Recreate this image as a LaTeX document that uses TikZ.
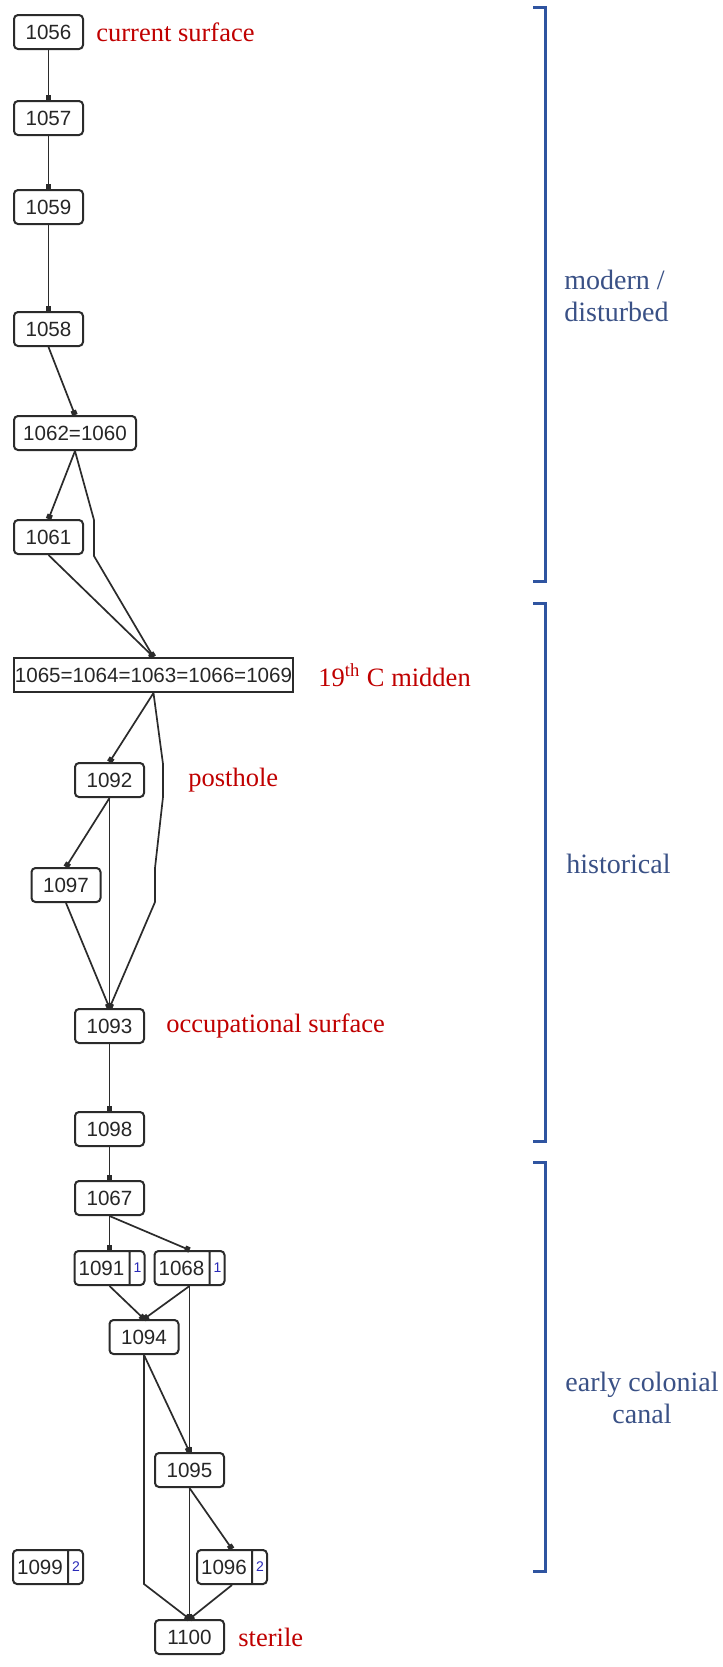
\documentclass[tikz,border=0pt]{standalone}
\usepackage{fontspec}
\setmainfont{Liberation Serif}
\newfontfamily\unitsans{Liberation Sans}
\usepackage{tikz}
\usetikzlibrary{arrows.meta,positioning,shapes.multipart}
\definecolor{unitline}{HTML}{2B2B2B}
\definecolor{unittext}{HTML}{262626}
\definecolor{notered}{HTML}{C00000}
\definecolor{phaseline}{HTML}{2F54A0}
\definecolor{phasetext}{HTML}{3A5186}
\definecolor{phaseno}{HTML}{2A2AB8}
\tikzset{
  unit/.style={draw=unitline,fill=white,rounded corners=2pt,line width=1pt,minimum height=17pt,minimum width=34.5pt,inner sep=0pt,text=unittext,font=\unitsans\fontsize{10.3}{12}\selectfont},
  merged/.style={unit,sharp corners,minimum width=139.5pt},
  phased/.style={unit,minimum width=0pt,rectangle split,rectangle split horizontal,rectangle split parts=2},
  link/.style={-{Square[length=2.4pt,width=2.8pt]},line width=0.85pt,color=unitline},
  note/.style={text=notered,inner sep=0pt,font=\fontsize{13.25}{15.5}\selectfont},
  phase/.style={text=phasetext,inner sep=0pt,font=\fontsize{14}{16}\selectfont},
  bracket/.style={draw=phaseline,line width=1.5pt},
}
\newcommand{\splitunit}[2]{\makebox[27pt]{\rule[-4.9pt]{0pt}{17pt}#1}\nodepart{two}\makebox[7pt]{\rule[-4.9pt]{0pt}{17pt}\raisebox{1.5pt}{\color{phaseno}\fontsize{7}{8}\selectfont #2}}}

\begin{document}
\begin{tikzpicture}[x=0.5pt,y=-0.5pt]
  \path[fill=white,use as bounding box] (0,0) rectangle (723,1667);
  \node[unit] (u1056) at (48.5,32) {1056};
  \node[unit] (u1057) at (48.5,118) {1057};
  \node[unit] (u1059) at (48.5,207) {1059};
  \node[unit] (u1058) at (48.5,329) {1058};
  \node[unit,minimum width=61pt] (u1062) at (75,433) {1062=1060};
  \node[unit] (u1061) at (48.5,537) {1061};
  \node[merged] (u1065) at (153.5,675) {1065=1064=1063=1066=1069};
  \node[unit] (u1092) at (109.5,780) {1092};
  \node[unit] (u1097) at (66,885) {1097};
  \node[unit] (u1093) at (109.5,1026) {1093};
  \node[unit] (u1098) at (109.5,1129) {1098};
  \node[unit] (u1067) at (109.5,1198) {1067};
  \node[phased] (u1091) at (109.5,1268) {\splitunit{1091}{1}};
  \node[phased] (u1068) at (189.5,1268) {\splitunit{1068}{1}};
  \node[unit] (u1094) at (144,1337) {1094};
  \node[unit] (u1095) at (189.5,1470) {1095};
  \node[phased] (u1099) at (48,1567) {\splitunit{1099}{2}};
  \node[phased] (u1096) at (232,1567) {\splitunit{1096}{2}};
  \node[unit] (u1100) at (189.5,1637) {1100};
  \foreach \a/\b in {u1056/u1057,u1057/u1059,u1059/u1058,u1058/u1062,u1062/u1061,u1061/u1065,u1065/u1092,u1092/u1097,u1092/u1093,u1097/u1093,u1093/u1098,u1098/u1067,u1067/u1091,u1067/u1068,u1091/u1094,u1068/u1094,u1068/u1095,u1094/u1095,u1095/u1100,u1095/u1096,u1096/u1100}
    \draw[link] (\a.south) -- (\b.north);
  \draw[link] (u1062.south) -- (94,520) -- (94,556) -- (u1065.north);
  \draw[link] (u1065.south) -- (163,764) -- (163,797) -- (155,868) -- (155,902) -- (u1093.north);
  \draw[link] (u1094.south) -- (144,1584) -- (u1100.north);
  \node[note,right=6pt of u1056] (lsurf) {current surface};
  \node[note,right=12pt of u1065] (lmid) {19\textsuperscript{th} C midden};
  \node[note,right=21.5pt of u1092] (lpost) {posthole};
  \node[note,right=10.5pt of u1093] (locc) {occupational surface};
  \node[note,right=6.5pt of u1100] (lster) {sterile};
  \foreach \t/\b in {7/581,603/1141,1162/1571}
    \draw[bracket] (533,\t) -- (545,\t) -- (545,\b) -- (533,\b);
  \node[phase,align=left,anchor=west] (pmod) at (564,296) {modern /\\disturbed};
  \node[phase,anchor=west] (phist) at (566,864) {historical};
  \node[phase,align=center] (pcan) at (642,1398) {early colonial\\canal};
\end{tikzpicture}
\end{document}
